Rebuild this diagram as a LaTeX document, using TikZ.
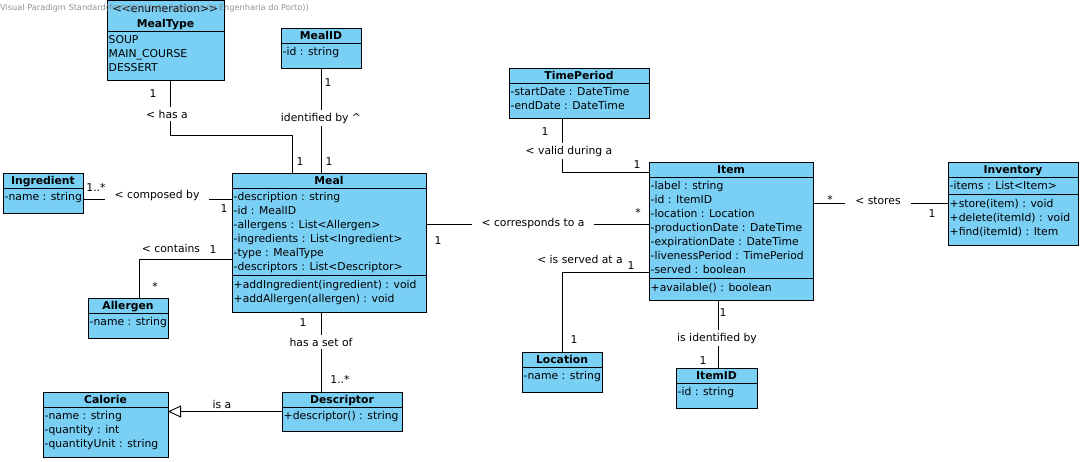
\documentclass[tikz,border=0pt]{standalone}
\usepackage{fontspec}
\setmainfont{DejaVu Sans}
\usetikzlibrary{arrows.meta}
\definecolor{clsfill}{RGB}{122,207,245}
\definecolor{wmgray}{RGB}{128,128,128}
\begin{document}
\begin{tikzpicture}[x=1pt,y=-1pt,
  font=\fontsize{10.8}{13}\selectfont,
  box/.style={draw=black, line width=0.9pt, fill=clsfill, anchor=north west, inner sep=0pt, outer sep=0pt},
  sepl/.style={draw=black, line width=0.9pt},
  hdr/.style={anchor=base, inner sep=0pt, font=\fontsize{10.8}{13}\selectfont\bfseries},
  hdrn/.style={anchor=base, inner sep=0pt},
  att/.style={anchor=base west, inner sep=0pt},
  lab/.style={anchor=base, inner sep=0pt},
  gapv/.style={anchor=base, fill=white, inner xsep=2pt, inner ysep=3pt},
  gaph/.style={anchor=base, fill=white, inner xsep=10pt, inner ysep=2pt},
  conn/.style={draw=black, line width=0.9pt},
  gen/.style={conn, -{Triangle[open, length=13pt, width=12pt, fill=white, line width=0.9pt]}}]
\useasboundingbox (0,0) rectangle (1082,461);
\fill[white] (0,0) rectangle (1082,461);

% helper coordinates
\coordinate (kA) at (170,0);
\coordinate (kB) at (292,135);
\coordinate (kC) at (321,0);
\coordinate (kD) at (0,199);
\coordinate (kE) at (0,259);
\coordinate (kF) at (139,0);
\coordinate (kH) at (562,0);
\coordinate (kI) at (0,172);
\coordinate (kJ) at (0,224);
\coordinate (kK) at (0,272);
\coordinate (kL) at (718,0);
\coordinate (kM) at (0,203);

% ---------- classes ----------
% MealType
\node[box, minimum width=117pt, minimum height=80pt] (MealType) at (107,0) {};
\draw[sepl] ([yshift=-31pt]MealType.north west) -- ([yshift=-31pt]MealType.north east);
\node[hdrn] (mtst) at (165.5,12) {<\kern0pt<enumeration>\kern0pt>};
\node[hdr] (mth) at (165.5,27) {MealType};
\node[att] (mt1) at (108.5,43) {SOUP};
\node[att] (mt2) at (108.5,57) {MAIN\_COURSE};
\node[att] (mt3) at (108.5,71) {DESSERT};

% MealID
\node[box, minimum width=80pt, minimum height=40pt] (MealID) at (281,28) {};
\draw[sepl] ([yshift=-15pt]MealID.north west) -- ([yshift=-15pt]MealID.north east);
\node[hdr] (midh) at (321,39) {MealID};
\node[att] (mid1) at (282.5,55) {-id : string};

% TimePeriod
\node[box, minimum width=140pt, minimum height=50pt] (TimePeriod) at (509,68) {};
\draw[sepl] ([yshift=-15pt]TimePeriod.north west) -- ([yshift=-15pt]TimePeriod.north east);
\node[hdr] (tph) at (579,79) {TimePeriod};
\node[att] (tp1) at (510.5,95) {-startDate : DateTime};
\node[att] (tp2) at (510.5,109) {-endDate : DateTime};

% Ingredient
\node[box, minimum width=80pt, minimum height=40pt] (Ingredient) at (3,173) {};
\draw[sepl] ([yshift=-15pt]Ingredient.north west) -- ([yshift=-15pt]Ingredient.north east);
\node[hdr] (ingh) at (43,184) {Ingredient};
\node[att] (ing1) at (4.5,200) {-name : string};

% Meal
\node[box, minimum width=194pt, minimum height=139pt] (Meal) at (232,173) {};
\draw[sepl] ([yshift=-15pt]Meal.north west) -- ([yshift=-15pt]Meal.north east);
\draw[sepl] ([yshift=-102pt]Meal.north west) -- ([yshift=-102pt]Meal.north east);
\node[hdr] (mealh) at (329,184) {Meal};
\node[att] (meal1) at (233.5,200) {-description : string};
\node[att] (meal2) at (233.5,214) {-id : MealID};
\node[att] (meal3) at (233.5,228) {-allergens : List<Allergen>};
\node[att] (meal4) at (233.5,242) {-ingredients : List<Ingredient>};
\node[att] (meal5) at (233.5,256) {-type : MealType};
\node[att] (meal6) at (233.5,270) {-descriptors : List<Descriptor>};
\node[att] (meal7) at (233.5,288) {+addIngredient(ingredient) : void};
\node[att] (meal8) at (233.5,302) {+addAllergen(allergen) : void};

% Allergen
\node[box, minimum width=80pt, minimum height=40pt] (Allergen) at (88,298) {};
\draw[sepl] ([yshift=-15pt]Allergen.north west) -- ([yshift=-15pt]Allergen.north east);
\node[hdr] (allh) at (128,309) {Allergen};
\node[att] (all1) at (89.5,325) {-name : string};

% Item
\node[box, minimum width=164pt, minimum height=138pt] (Item) at (649,162) {};
\draw[sepl] ([yshift=-15pt]Item.north west) -- ([yshift=-15pt]Item.north east);
\draw[sepl] ([yshift=-116pt]Item.north west) -- ([yshift=-116pt]Item.north east);
\node[hdr] (itemh) at (731,173) {Item};
\node[att] (item1) at (650.5,189) {-label : string};
\node[att] (item2) at (650.5,203) {-id : ItemID};
\node[att] (item3) at (650.5,217) {-location : Location};
\node[att] (item4) at (650.5,231) {-productionDate : DateTime};
\node[att] (item5) at (650.5,245) {-expirationDate : DateTime};
\node[att] (item6) at (650.5,259) {-livenessPeriod : TimePeriod};
\node[att] (item7) at (650.5,273) {-served : boolean};
\node[att] (item8) at (650.5,291) {+available() : boolean};

% Inventory
\node[box, minimum width=130pt, minimum height=83pt] (Inventory) at (948,162) {};
\draw[sepl] ([yshift=-15pt]Inventory.north west) -- ([yshift=-15pt]Inventory.north east);
\draw[sepl] ([yshift=-32pt]Inventory.north west) -- ([yshift=-32pt]Inventory.north east);
\node[hdr] (invh) at (1013,173) {Inventory};
\node[att] (inv1) at (949.5,189) {-items : List<Item>};
\node[att] (inv2) at (949.5,207) {+store(item) : void};
\node[att] (inv3) at (949.5,221) {+delete(itemId) : void};
\node[att] (inv4) at (949.5,235) {+find(itemId) : Item};

% Location
\node[box, minimum width=80pt, minimum height=40pt] (Location) at (522,352) {};
\draw[sepl] ([yshift=-15pt]Location.north west) -- ([yshift=-15pt]Location.north east);
\node[hdr] (loch) at (562,363) {Location};
\node[att] (loc1) at (523.5,379) {-name : string};

% ItemID
\node[box, minimum width=81pt, minimum height=40pt] (ItemID) at (676,368) {};
\draw[sepl] ([yshift=-15pt]ItemID.north west) -- ([yshift=-15pt]ItemID.north east);
\node[hdr] (iidh) at (716.5,379) {ItemID};
\node[att] (iid1) at (677.5,395) {-id : string};

% Calorie
\node[box, minimum width=125pt, minimum height=65pt] (Calorie) at (43,392) {};
\draw[sepl] ([yshift=-15pt]Calorie.north west) -- ([yshift=-15pt]Calorie.north east);
\node[hdr] (calh) at (105.5,403) {Calorie};
\node[att] (cal1) at (44.5,419) {-name : string};
\node[att] (cal2) at (44.5,433) {-quantity : int};
\node[att] (cal3) at (44.5,447) {-quantityUnit : string};

% Descriptor
\node[box, minimum width=120pt, minimum height=39pt] (Descriptor) at (282,392) {};
\draw[sepl] ([yshift=-15pt]Descriptor.north west) -- ([yshift=-15pt]Descriptor.north east);
\node[hdr] (desh) at (342,403) {Descriptor};
\node[att] (des1) at (283.5,419) {+descriptor() : string};

% ---------- connectors ----------
\draw[conn] (MealType.south -| kA) |- (kB) -- (Meal.north -| kB);
\draw[conn] (MealID.south -| kC) -- (Meal.north -| kC);
\draw[conn] (Ingredient.east |- kD) -- (Meal.west |- kD);
\draw[conn] (Meal.west |- kE) -| (Allergen.north -| kF);
\draw[conn] (Meal.south -| kC) -- (Descriptor.north -| kC);
\draw[gen] (Descriptor.west) -- (Calorie.east |- Descriptor.west);
\draw[conn] (TimePeriod.south -| kH) |- (Item.west |- kI);
\draw[conn] (Meal.east |- kJ) -- (Item.west |- kJ);
\draw[conn] (Item.west |- kK) -| (Location.north);
\draw[conn] (Item.south -| kL) -- (ItemID.north -| kL);
\draw[conn] (Item.east |- kM) -- (Inventory.west |- kM);

% ---------- labels ----------
\node[gapv] (l1) at (167,118) {< has a};
\node[lab] (m1a) at (153,97) {1};
\node[lab] (m1b) at (300,165) {1};

\node[gapv] (l2) at (321,121) {identified by \^{}};
\node[lab] (m2a) at (328,86) {1};
\node[lab] (m2b) at (329,165) {1};

\node[gaph] (l3) at (157,198) {< composed by};
\node[lab] (m3a) at (96,191) {1..*};
\node[lab] (m3b) at (224,212) {1};

\node[lab] (l4) at (171,252) {< contains};
\node[lab] (m4a) at (213,253) {1};
\node[lab] (m4b) at (155,290.5) {*};

\node[gapv] (l5) at (321,346) {has a set of};
\node[lab] (m5a) at (303,326) {1};
\node[lab] (m5b) at (340,383) {1..*};

\node[lab] (l6) at (222,408) {is a};

\node[gapv] (l7) at (569,154) {< valid during a};
\node[lab] (m7a) at (545,135) {1};
\node[lab] (m7b) at (637,168) {1};

\node[gaph] (l8) at (533,226) {< corresponds to a};
\node[lab] (m8a) at (438,244) {1};
\node[lab] (m8b) at (638,216.5) {*};

\node[lab] (l9) at (580,263) {< is served at a};
\node[lab] (m9a) at (631,269) {1};
\node[lab] (m9b) at (574,343) {1};

\node[gapv] (l10) at (717,341) {is identified by};
\node[lab] (m10a) at (723,316) {1};
\node[lab] (m10b) at (703,364) {1};

\node[gaph] (l11) at (878,204) {< stores};
\node[lab] (m11a) at (830,203.5) {*};
\node[lab] (m11b) at (932,217) {1};

% watermark
\node[anchor=base west, inner sep=0pt, font=\fontsize{8.2}{9}\selectfont, text=wmgray, opacity=0.85] (wm) at (0,10) {Visual Paradigm Standard(fcsta(Instituto Superior de Engenharia do Porto))};
\end{tikzpicture}
\end{document}
